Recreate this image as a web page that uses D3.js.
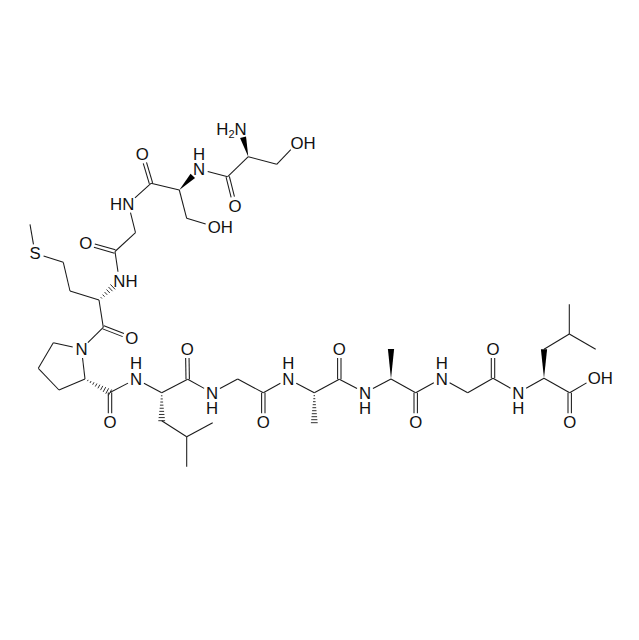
<!DOCTYPE html>
<html>
<head>
<meta charset="utf-8">
<style>
  html, body { margin: 0; padding: 0; background: #fff; }
  svg { display: block; }
  text { font-family: "Liberation Sans", Arial, sans-serif; font-size: 16.8px; fill: #111; }
</style>
<script src="https://cdn.jsdelivr.net/npm/d3@7"></script>
</head>
<body>
<div id="app"></div>
<script>
// atoms: id, x, y, label and where its H sits
const atoms = [
  ['n1', 240.7, 128.5, 'N', 'h2left'], ['ca1', 248.3, 156.7], ['cb1', 276.7, 164.3], ['og1', 297, 143, 'O', 'right'],
  ['c1', 227.7, 176.7], ['o1', 235, 205.7, 'O'],
  ['n2', 199, 169.3, 'N', 'up'], ['ca2', 179.3, 190], ['cb2', 186.7, 218.3], ['og2', 214.3, 226.7, 'O', 'right'],
  ['c2', 151, 183.3], ['o2', 142.3, 154.3, 'O'],
  ['n3', 128.3, 204, 'N', 'left'], ['ca3', 135.5, 232.7], ['c3', 115, 251.5], ['o3', 85.7, 243.3, 'O'],
  ['n4', 119.3, 280.7, 'N', 'right'], ['ca4', 99, 300], ['cb4', 70, 291], ['cg4', 63.3, 262.3],
  ['s4', 35, 253.3, 'S'], ['ce4', 30, 224.3], ['c4', 103.3, 327.3], ['o4', 131.7, 338.3, 'O'],
  ['n5', 81.5, 349, 'N'], ['cd5', 53.3, 342.7], ['cg5', 38.3, 368.3], ['cb5', 59, 390], ['ca5', 85, 379],
  ['c5', 110, 392.5], ['o5', 110, 422.3, 'O'],
  ['n6', 136, 379, 'N', 'up'], ['ca6', 161.7, 392.7], ['cb6', 161.7, 420.7], ['cg6', 186.7, 436.7],
  ['cd61', 212.7, 422.7], ['cd62', 186.7, 466.7], ['c6', 187.7, 379.3], ['o6', 187.2, 349, 'O'],
  ['n7', 212, 392.7, 'N', 'down'], ['ca7', 237.7, 379], ['c7', 263.3, 392.7], ['o7', 263.3, 422.3, 'O'],
  ['n8', 288.3, 379, 'N', 'up'], ['ca8', 314.3, 392.7], ['cb8', 314.3, 422.7], ['c8', 339.3, 379.3], ['o8', 339.3, 349, 'O'],
  ['n9', 365, 392.7, 'N', 'down'], ['ca9', 391, 379], ['cb9', 391, 349], ['c9', 415.7, 392.7], ['o9', 415.7, 422.3, 'O'],
  ['n10', 441.7, 378.5, 'N', 'up'], ['ca10', 467.7, 392.7], ['c10', 493, 378.3], ['o10', 493, 349, 'O'],
  ['n11', 518.3, 392.7, 'N', 'down'], ['ca11', 544, 378.3], ['cb11', 544, 349.3], ['cg11', 569.3, 334],
  ['cd111', 569.3, 304.3], ['cd112', 595.7, 349.3], ['c11', 569.7, 392.7], ['o11', 569.7, 422.3, 'O'],
  ['oh11', 594.3, 378.3, 'O', 'right']
]

// bonds: from, to, kind (from = narrow end of wedge and hash)
const singleBonds = [
  ['ca1', 'cb1'], ['cb1', 'og1'], ['ca1', 'c1'], ['c1', 'n2'],
  ['ca2', 'cb2'], ['cb2', 'og2'], ['ca2', 'c2'], ['c2', 'n3'], ['n3', 'ca3'], ['ca3', 'c3'], ['c3', 'n4'],
  ['ca4', 'cb4'], ['cb4', 'cg4'], ['cg4', 's4'], ['s4', 'ce4'], ['ca4', 'c4'], ['c4', 'n5'],
  ['n5', 'cd5'], ['cd5', 'cg5'], ['cg5', 'cb5'], ['cb5', 'ca5'], ['ca5', 'n5'], ['c5', 'n6'], ['n6', 'ca6'],
  ['cb6', 'cg6'], ['cg6', 'cd61'], ['cg6', 'cd62'], ['ca6', 'c6'], ['c6', 'n7'], ['n7', 'ca7'], ['ca7', 'c7'],
  ['c7', 'n8'], ['n8', 'ca8'], ['ca8', 'c8'], ['c8', 'n9'], ['n9', 'ca9'], ['ca9', 'c9'], ['c9', 'n10'],
  ['n10', 'ca10'], ['ca10', 'c10'], ['c10', 'n11'], ['n11', 'ca11'], ['cb11', 'cg11'], ['cg11', 'cd111'],
  ['cg11', 'cd112'], ['ca11', 'c11'], ['c11', 'oh11']
]
const doubleBonds = [
  ['c1', 'o1'], ['c2', 'o2'], ['c3', 'o3'], ['c4', 'o4'], ['c5', 'o5'], ['c6', 'o6'], ['c7', 'o7'],
  ['c8', 'o8'], ['c9', 'o9'], ['c10', 'o10'], ['c11', 'o11']
]
const wedgeBonds = [['ca1', 'n1'], ['ca2', 'n2'], ['ca9', 'cb9'], ['ca11', 'cb11']]
const hashBonds = [['ca4', 'n4'], ['ca5', 'c5'], ['ca6', 'cb6'], ['ca8', 'cb8']]

const width = 639
const height = 640
const x = d3.scaleLinear().domain([0, 639]).range([0, width])
const y = d3.scaleLinear().domain([0, 640]).range([0, height])

const byId = new Map(atoms.map(a => [a[0], { id: a[0], x: x(a[1]), y: y(a[2]), label: a[3], side: a[4] }]))

const svg = d3.select('#app').append('svg')
  .attr('width', width)
  .attr('height', height)
  .attr('viewBox', `0 0 ${width} ${height}`)

const ink = '#1a1a1a'
const gap = 9

// end points of a bond, pulled back from any atom label
function ends(b) {
  const p = byId.get(b[0])
  const q = byId.get(b[1])
  const len = Math.hypot(q.x - p.x, q.y - p.y)
  const ux = (q.x - p.x) / len
  const uy = (q.y - p.y) / len
  const s = p.label ? gap : 0
  const e = q.label ? gap : 0
  return {
    x1: p.x + ux * s, y1: p.y + uy * s,
    x2: q.x - ux * e, y2: q.y - uy * e,
    ux, uy, len: len - s - e
  }
}

svg.append('g').selectAll('line')
  .data(singleBonds.map(ends))
  .join('line')
  .attr('x1', d => d.x1).attr('y1', d => d.y1)
  .attr('x2', d => d.x2).attr('y2', d => d.y2)
  .attr('stroke', ink).attr('stroke-width', 1.05)

// double bonds are drawn as two lines either side of the axis
svg.append('g').selectAll('line')
  .data(doubleBonds.map(ends).flatMap(d => [Object.assign({ o: 1.7 }, d), Object.assign({ o: -1.7 }, d)]))
  .join('line')
  .attr('x1', d => d.x1 - d.uy * d.o).attr('y1', d => d.y1 + d.ux * d.o)
  .attr('x2', d => d.x2 - d.uy * d.o).attr('y2', d => d.y2 + d.ux * d.o)
  .attr('stroke', ink).attr('stroke-width', 1.05)

svg.append('g').selectAll('polygon')
  .data(wedgeBonds.map(ends))
  .join('polygon')
  .attr('fill', '#000')
  .attr('points', d => {
    const w = 3.1
    return [
      [d.x1, d.y1],
      [d.x2 - d.uy * w, d.y2 + d.ux * w],
      [d.x2 + d.uy * w, d.y2 - d.ux * w]
    ].join(' ')
  })

const hashes = hashBonds.map(ends).flatMap(d => {
  const n = Math.floor(d.len / 3)
  return d3.range(1, n + 1).map(i => {
    const t = i / n
    const w = 0.4 + t * 3
    const cx = d.x1 + (d.x2 - d.x1) * t
    const cy = d.y1 + (d.y2 - d.y1) * t
    return { x1: cx - d.uy * w, y1: cy + d.ux * w, x2: cx + d.uy * w, y2: cy - d.ux * w }
  })
})
svg.append('g').selectAll('line')
  .data(hashes)
  .join('line')
  .attr('x1', d => d.x1).attr('y1', d => d.y1)
  .attr('x2', d => d.x2).attr('y2', d => d.y2)
  .attr('stroke', ink).attr('stroke-width', 0.9)

// labels: the element letter sits centred on its atom
const labelled = Array.from(byId.values()).filter(a => a.label)
const labels = svg.append('g')
const baseline = 6
const hStep = 15.6
const letterHalf = { N: 6, O: 6.5, S: 5.6 }

labelled.forEach(a => {
  const half = letterHalf[a.label]
  if (a.side === 'right') {
    labels.append('text').attr('x', a.x - half).attr('y', a.y + baseline).text(a.label + 'H')
  } else if (a.side === 'left') {
    labels.append('text').attr('x', a.x + half).attr('y', a.y + baseline)
      .attr('text-anchor', 'end').text('H' + a.label)
  } else if (a.side === 'h2left') {
    const t = labels.append('text').attr('x', a.x + half).attr('y', a.y + baseline).attr('text-anchor', 'end')
    t.append('tspan').text('H')
    t.append('tspan').attr('dy', 3).style('font-size', '11px').text('2')
    t.append('tspan').attr('dy', -3).text(a.label)
  } else if (a.side === 'up' || a.side === 'down') {
    // letter and its H stay in one text, stacked
    const t = labels.append('text').attr('text-anchor', 'middle')
    t.append('tspan').attr('x', a.x).attr('y', a.y + baseline).text(a.label)
    t.append('tspan').attr('x', a.x)
      .attr('y', a.y + baseline + (a.side === 'up' ? -hStep : hStep)).text('H')
  } else {
    labels.append('text').attr('x', a.x).attr('y', a.y + baseline)
      .attr('text-anchor', 'middle').text(a.label)
  }
})
</script>
</body>
</html>
